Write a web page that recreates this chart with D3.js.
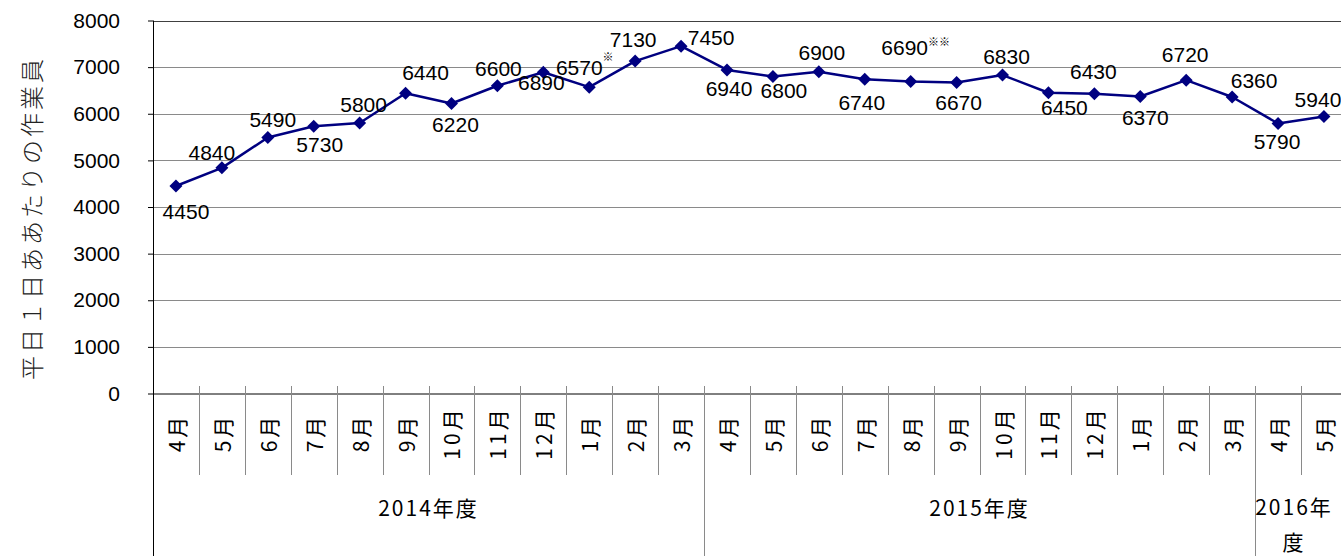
<!DOCTYPE html>
<html><head><meta charset="utf-8">
<script src="https://cdn.jsdelivr.net/npm/d3@7"></script>
<style>body{margin:0;background:#fff}svg{display:block}</style>
</head><body>
<svg id="c" width="1341" height="556"></svg>
<script>
// ---- data ----
const months = ['4月','5月','6月','7月','8月','9月','10月','11月','12月','1月','2月','3月',
                '4月','5月','6月','7月','8月','9月','10月','11月','12月','1月','2月','3月',
                '4月','5月'];
const workers = [4450,4840,5490,5730,5800,6440,6220,6600,6890,6570,7130,7450,
                 6940,6800,6900,6740,6690,6670,6830,6450,6430,6370,6720,6360,
                 5790,5940];
const notes = ['','','','','','','','','','※','','','','','','','※※','','','','','','','','',''];
const fiscalYears = ['2014年度','2015年度','2016年度'];
const fiscalYearMonths = [12,12,2];
const yTicks = [0,1000,2000,3000,4000,5000,6000,7000,8000];
const yTitle = '平日１日ああたりの作業員';

// label placement (offset of label centre from the point)
const labelDx = [10,-10,5,6,4,20,4,1,-2,-10,-2,30,2,11,3,-3,-6,2,4,16,-1,5,-1,22,-1,-6];
const labelDy = [25,-15,-18,18,-19,-21,21,-17,10,-20,-22,-9,19,14,-19,23,-34,20,-19,15,-22,21,-26,-16,18,-17];
const noteRaise = {9:11, 16:7};

// ---- layout ----
const svg = d3.select('#c');
const L = 153, T = 20.5, B = 393.5, step = 45.92;
const x = d3.scaleBand().domain(d3.range(months.length)).range([L, L + step*months.length]).padding(0);
const y = d3.scaleLinear().domain([0, 8000]).range([B, T]);
const cx = i => x(i) + x.bandwidth()/2;
const numFont = 'Liberation Sans, Arial, sans-serif';
const jpFont = '"Noto Sans CJK JP", sans-serif';

// gridlines
svg.append('g').selectAll('line').data(yTicks.filter(v => v > 0)).join('line')
  .attr('x1', L).attr('x2', 1341)
  .attr('y1', d => Math.round(y(d)) + 0.5).attr('y2', d => Math.round(y(d)) + 0.5)
  .attr('stroke', d => d === 8000 ? '#404040' : '#8a8a8a').attr('stroke-width', 1);

// y axis
const yAxis = d3.axisLeft(y).tickValues(yTicks).tickSize(5).tickPadding(28).tickFormat(d3.format('d'));
const ga = svg.append('g').attr('transform', `translate(${L},0)`).call(yAxis);
ga.select('.domain').remove();
ga.selectAll('.tick line').attr('stroke', '#000');
ga.selectAll('.tick text').attr('font-family', numFont).attr('font-size', 21).attr('fill', '#000');
svg.append('line').attr('x1', L + 0.5).attr('x2', L + 0.5).attr('y1', T).attr('y2', 556)
  .attr('stroke', '#000').attr('stroke-width', 1);

// x axis line
svg.append('line').attr('x1', L).attr('x2', 1341).attr('y1', B + 0.5).attr('y2', B + 0.5)
  .attr('stroke', '#000');

// month separators
const bounds = d3.range(1, months.length + 1);
const yearBounds = new Set(d3.cumsum(fiscalYearMonths));
svg.append('g').selectAll('line').data(bounds).join('line')
  .attr('x1', i => Math.round(x(0) + step*i) + 0.5).attr('x2', i => Math.round(x(0) + step*i) + 0.5)
  .attr('y1', 386).attr('y2', i => yearBounds.has(i) ? 556 : 475)
  .attr('stroke', '#8a8a8a');

// month labels
svg.append('g').selectAll('text').data(months).join('text')
  .attr('transform', (d, i) => `translate(${cx(i)},433) rotate(-90)`)
  .attr('text-anchor', 'middle').attr('dominant-baseline', 'central')
  .attr('font-family', jpFont).attr('font-size', 21).attr('letter-spacing', 3).attr('fill', '#000')
  .text(d => d);

// fiscal-year labels
const starts = [0, ...d3.cumsum(fiscalYearMonths)];
fiscalYears.forEach((fy, k) => {
  const x0 = x(0) + step*starts[k], x1 = Math.min(x(0) + step*starts[k+1], 1341);
  const mid = (x0 + x1)/2;
  const t = svg.append('text').attr('text-anchor', 'middle')
    .attr('font-family', jpFont).attr('font-size', 21).attr('letter-spacing', 2).attr('fill', '#000');
  if (fiscalYearMonths[k] < 3) {
    t.append('tspan').attr('x', mid - 4).attr('y', 515).text(fy.slice(0, -1));
    t.append('tspan').attr('x', mid - 4).attr('y', 550).text(fy.slice(-1));
  } else {
    t.attr('x', mid).attr('y', 516).text(fy);
  }
});

// y title
svg.append('text').attr('transform', 'translate(30,218) rotate(-90)')
  .attr('text-anchor', 'middle').attr('dominant-baseline', 'central')
  .attr('font-family', jpFont).attr('font-size', 24).attr('font-weight', 300)
  .attr('letter-spacing', 3).attr('fill', '#222').text(yTitle);

// line
const line = d3.line().x((d, i) => cx(i)).y(d => y(d));
svg.append('path').datum(workers).attr('d', line)
  .attr('fill', 'none').attr('stroke', '#000080').attr('stroke-width', 2.5).attr('stroke-linejoin', 'round');

// markers
svg.append('g').selectAll('path').data(workers).join('path')
  .attr('transform', (d, i) => `translate(${cx(i)},${y(d)})`)
  .attr('d', 'M0,-6.5L6.5,0L0,6.5L-6.5,0Z').attr('fill', '#000080');

// data labels
const lbl = svg.append('g').selectAll('text').data(workers).join('text')
  .attr('x', (d, i) => cx(i) + labelDx[i]).attr('y', (d, i) => y(d) + labelDy[i])
  .attr('text-anchor', 'middle').attr('dominant-baseline', 'central')
  .attr('font-family', numFont).attr('font-size', 21).attr('fill', '#000')
  .text(d => d);
lbl.each(function(d, i) {
  if (!notes[i]) return;
  const bb = this.getBBox();
  svg.append('text').attr('x', bb.x + bb.width).attr('y', y(d) + labelDy[i] - noteRaise[i])
    .attr('dominant-baseline', 'central')
    .attr('font-family', jpFont).attr('font-size', 11).attr('fill', '#000').text(notes[i]);
});
</script>
</body></html>
